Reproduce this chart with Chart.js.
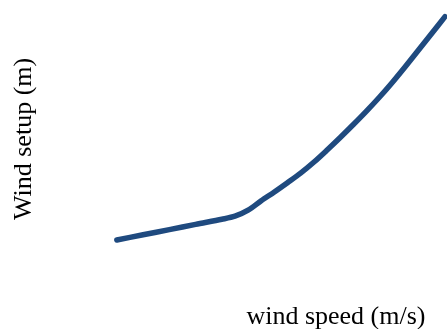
<!DOCTYPE html>
<html lang="en">
<head>
<meta charset="UTF-8">
<title>Wind setup</title>
<script src="https://cdn.jsdelivr.net/npm/chart.js"></script>
<style>
  html, body { margin: 0; padding: 0; background: #fff; }
  #wrap { width: 447px; height: 329px; }
</style>
</head>
<body>
<div id="wrap"><canvas id="setupChart"></canvas></div>
<script>
// wind speed (m/s) and wind setup (m)
const windSpeed = [5, 7, 9, 11, 13, 14, 15, 16, 17, 18, 19, 20, 21, 22, 23, 24, 25, 26, 27, 28, 29, 30];
const setup = [0.163, 0.186, 0.208, 0.231, 0.253, 0.266, 0.292, 0.333, 0.371, 0.411, 0.452, 0.499,
               0.551, 0.605, 0.661, 0.719, 0.780, 0.845, 0.914, 0.985, 1.056, 1.128];

const titleFont = { family: '"Liberation Serif", "Times New Roman", serif', size: 26 };

const ctx = document.getElementById('setupChart').getContext('2d');
new Chart(ctx, {
  type: 'line',
  data: {
    datasets: [{
      data: windSpeed.map((w, i) => ({ x: w, y: setup[i] })),
      borderColor: '#1f4a7f',
      borderWidth: 5.5,
      borderCapStyle: 'round',
      borderJoinStyle: 'round',
      pointRadius: 0,
      tension: 0.3,
      clip: false
    }]
  },
  options: {
    responsive: true,
    maintainAspectRatio: false,
    animation: false,
    layout: { padding: { top: 0, right: 2, bottom: 0, left: 0 } },
    plugins: { legend: { display: false }, tooltip: { enabled: false } },
    scales: {
      x: {
        type: 'linear',
        min: 0,
        max: 30,
        grid: { display: false },
        border: { display: false },
        ticks: { display: false },
        title: {
          display: true,
          // trailing spaces pull the end-aligned title in from the right edge
          text: 'wind speed (m/s)\u00a0\u00a0\u00a0',
          align: 'end',
          color: '#000',
          font: titleFont,
          padding: { top: 16, bottom: -4 }
        }
      },
      y: {
        min: 0,
        max: 1.2,
        grid: { display: false },
        border: { display: false },
        ticks: { display: false },
        title: {
          display: true,
          text: 'Wind setup (m)',
          color: '#000',
          font: titleFont,
          padding: { top: 9, bottom: 3 }
        }
      }
    }
  }
});
</script>
</body>
</html>
